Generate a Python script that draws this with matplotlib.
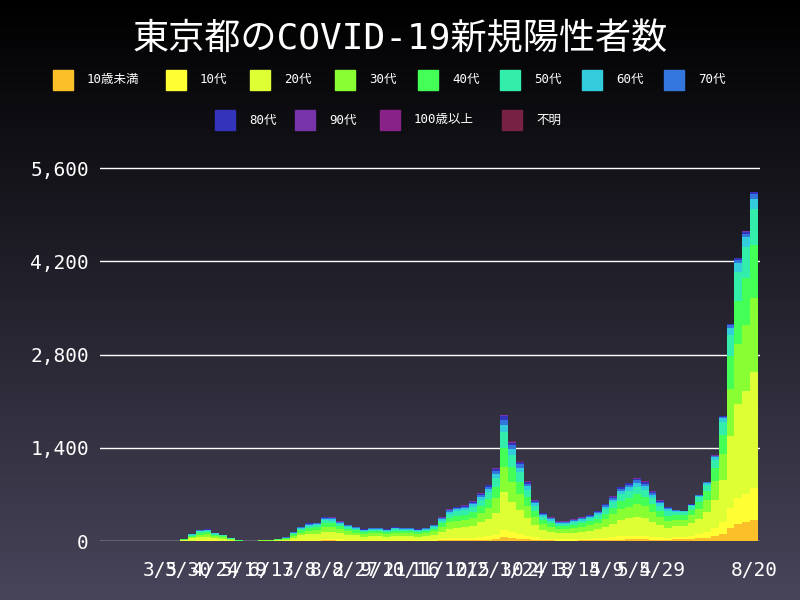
import numpy as np
import pandas as pd
import matplotlib.pyplot as plt
from matplotlib.colors import LinearSegmentedColormap

plt.rcParams['font.family'] = ['DejaVu Sans Mono', 'Noto Sans CJK JP']

# --- DATA ---
categories = ["10歳未満", "10代", "20代", "30代", "40代", "50代",
              "60代", "70代", "80代", "90代", "100歳以上", "不明"]
colors = ["#fbbf2a", "#ffff33", "#ddff33", "#88ff33", "#44ff55", "#33eeaa",
          "#33ccdd", "#3377dd", "#3333bb", "#7733aa", "#882288", "#772244"]

week_start = pd.date_range("2020-01-20", "2021-08-16", freq="7D")
# weekly level of daily new cases
week_avg = [0, 0, 0, 1, 2, 2, 3, 4, 8, 40, 110, 170, 180, 130, 100, 50, 15, 7,
            10, 20, 25, 40, 60, 140, 220, 270, 280, 370, 360, 300, 250, 220,
            180, 200, 200, 180, 210, 200, 200, 180, 200, 250, 360, 480, 520,
            540, 600, 720, 850, 1100, 1900, 1500, 1200, 900, 620, 430, 360,
            300, 300, 330, 360, 400, 460, 560, 680, 820, 880, 950, 900, 750,
            620, 520, 470, 460, 560, 700, 900, 1300, 1900, 3300, 4300, 4700,
            5300]

share_2020 = [0.03, 0.06, 0.30, 0.20, 0.15, 0.12, 0.06, 0.04, 0.025, 0.01, 0.001, 0.004]
share_2021 = [0.06, 0.09, 0.33, 0.21, 0.15, 0.10, 0.03, 0.012, 0.006, 0.002, 0.0, 0.0]
share_switch = pd.Timestamp("2021-06-01")

# --- FIGURE ---
fig = plt.figure(figsize=(8, 6), dpi=100)
bg = fig.add_axes([0, 0, 1, 1], zorder=-10)
grad = np.linspace(0, 1, 256).reshape(-1, 1)
cmap = LinearSegmentedColormap.from_list("bg", ["#000000", "#48445a"])
bg.imshow(grad, aspect="auto", cmap=cmap, extent=[0, 1, 0, 1])
bg.axis("off")

ax = fig.add_axes([0.125, 0.098, 0.825, 0.625])
ax.set_facecolor("none")

bottom = np.zeros(len(week_start))
for i, cat in enumerate(categories):
    vals = np.array([v * (share_2021[i] if d >= share_switch else share_2020[i])
                     for d, v in zip(week_start, week_avg)])
    ax.bar(week_start, vals, width=7, bottom=bottom, align="edge",
           color=colors[i], linewidth=0)
    bottom += vals

ax.set_ylim(0, 5600 * 1.005)
ax.set_yticks([0, 1400, 2800, 4200, 5600])
ax.set_yticklabels(["0", "1,400", "2,800", "4,200", "5,600"])
ax.yaxis.grid(True, color="white", linewidth=1)
ax.set_axisbelow(True)
ax.set_xlim(pd.Timestamp("2020-01-11"), pd.Timestamp("2021-08-25"))

tick_dates = list(pd.date_range("2020-03-05", "2021-05-29", freq="25D")) + [pd.Timestamp("2021-08-20")]
ax.set_xticks(tick_dates)
ax.set_xticklabels([f"{d.month}/{d.day}" for d in tick_dates])
ax.tick_params(axis="x", colors="white", labelsize=14, length=0, pad=14)
ax.tick_params(axis="y", colors="white", labelsize=14, length=0, pad=8)
for s in ax.spines.values():
    s.set_visible(False)

fig.text(0.5, 0.935, "東京都のCOVID-19新規陽性者数", color="white",
         fontsize=26, ha="center", va="center")

# legend rows (square centre x in pixels)
row1_x = [63, 176, 289, 402, 515, 515 + 113 - 26, 0, 0]
row1_x = [63, 176, 260, 345, 428, 510, 592, 674]
row2_x = [225, 305, 390, 512]
rows = [(categories[:8], colors[:8], 0.867, row1_x), (categories[8:], colors[8:], 0.80, row2_x)]
for cats, cols, y, xs in rows:
    for c, col, xp in zip(cats, cols, xs):
        x = xp / 800
        fig.patches.append(plt.Rectangle((x - 0.0125, y - 0.017), 0.025, 0.034,
                                         transform=fig.transFigure, color=col))
        fig.text(x + 0.03, y, c, color="white", fontsize=9, va="center")

plt.savefig("out.png")
